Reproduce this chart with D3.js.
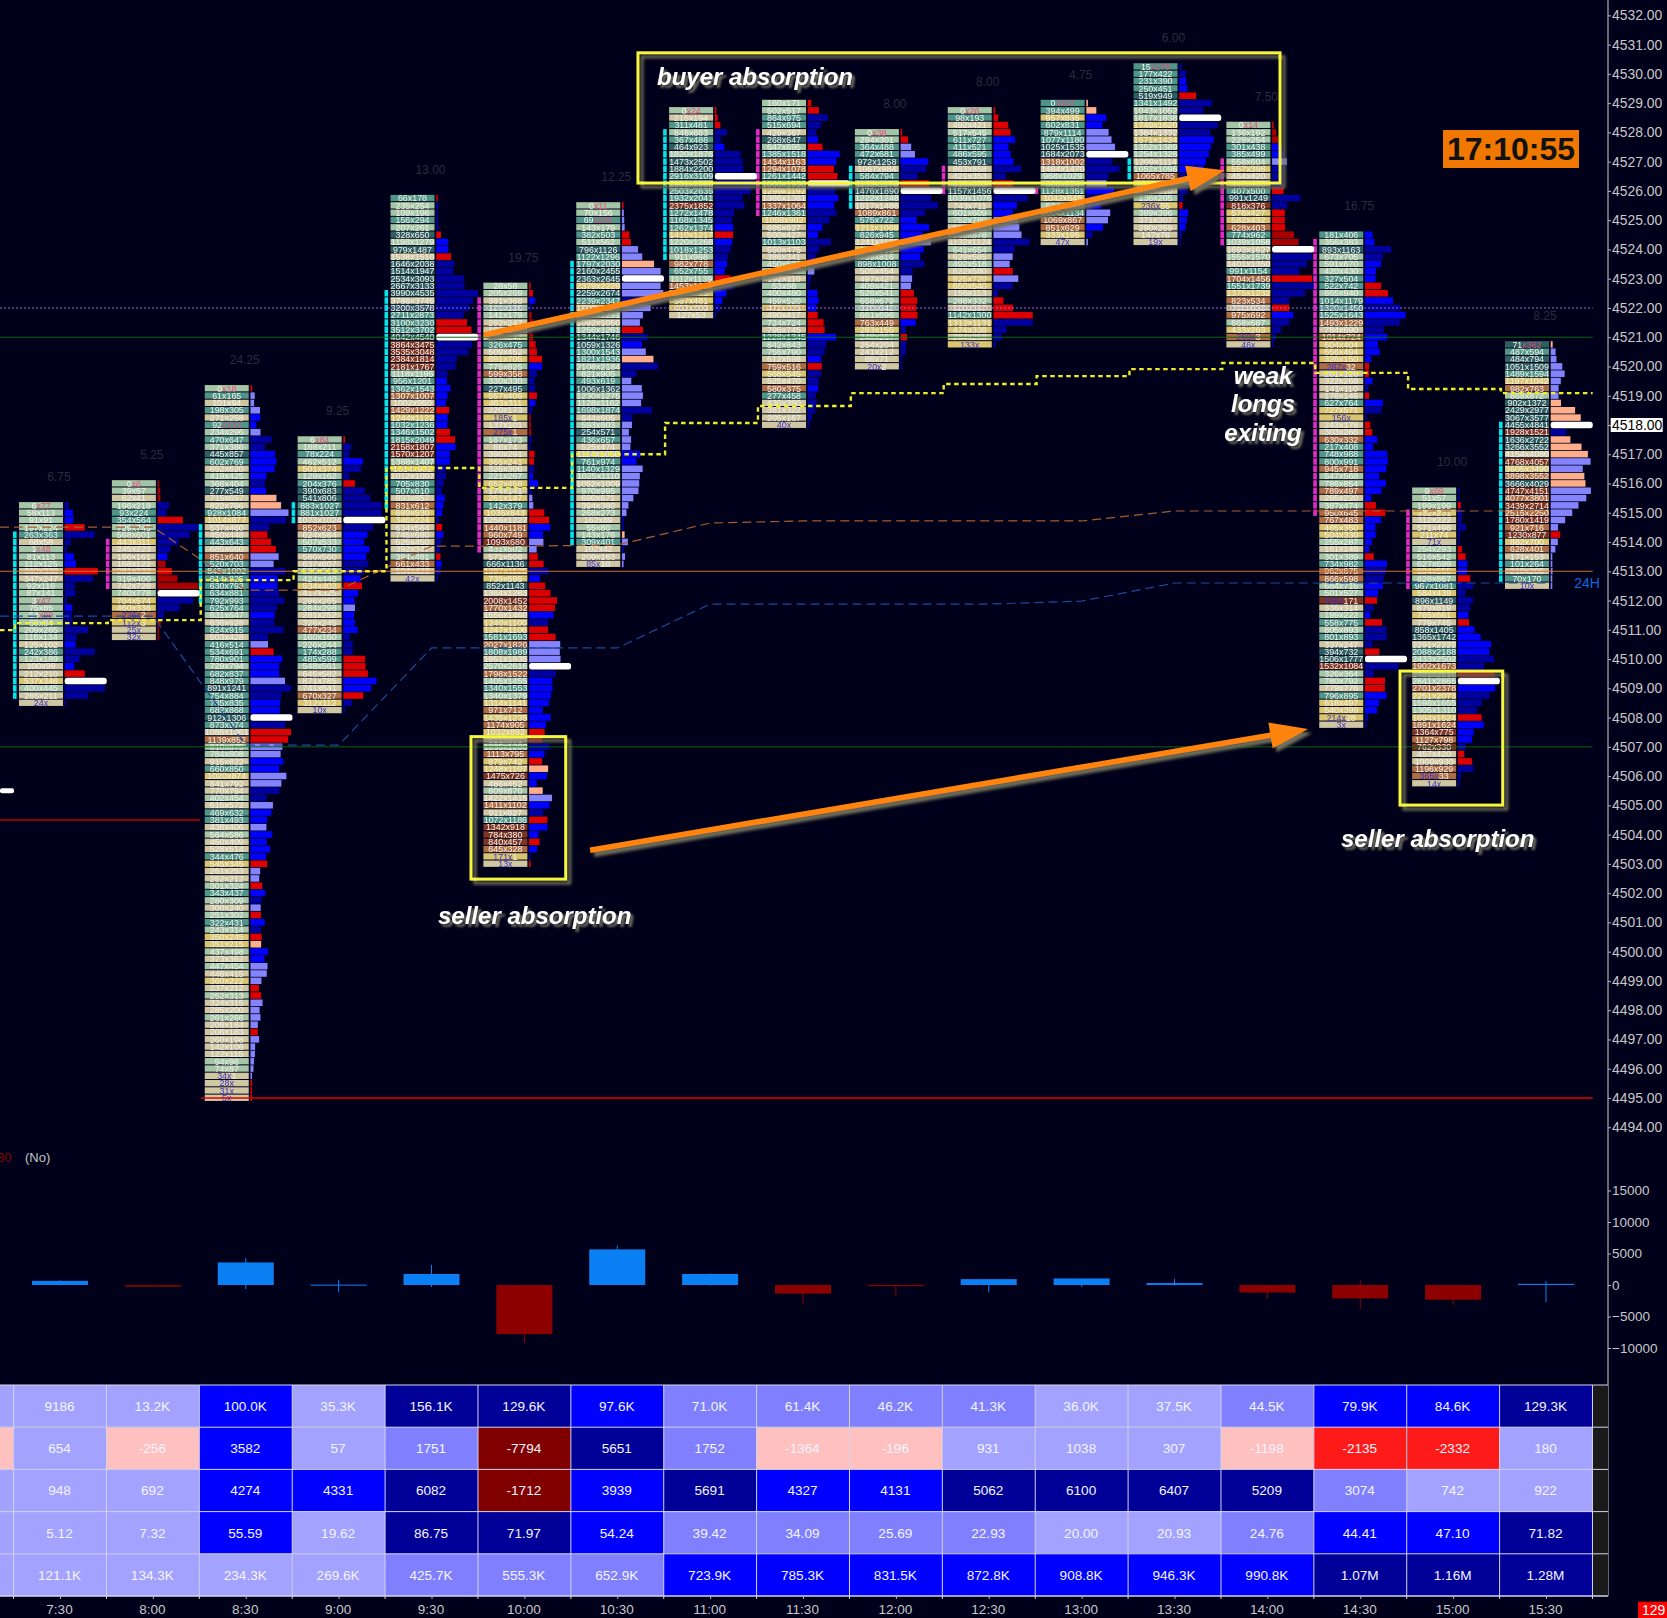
<!DOCTYPE html>
<html><head><meta charset="utf-8">
<script src="https://cdn.jsdelivr.net/npm/d3@7"></script>
<style>html,body{margin:0;padding:0;background:#00001a}svg{display:block}text{font-family:"Liberation Sans",Arial,sans-serif}</style>
</head><body><svg id="c" width="1667" height="1618"></svg>
<script>
// session labels
const timeLabels=["7:30","8:00","8:30","9:00","9:30","10:00","10:30","11:00","11:30","12:00","12:30","13:00","13:30","14:00","14:30","15:00","15:30"];
// highest price of each footprint column
const colTops=[4515.25,4516,4519.25,4517.5,4525.75,4522.75,4525.5,4528.75,4529,4528,4528.75,4529,4530.25,4528.25,4524.5,4515.75,4520.75];
// dim range figure printed over each column (null = hidden by annotation)
const colRange=["6.75","5.25","24.25","9.25","13.00","19.75","12.25",null,null,"8.00","8.00","4.75","6.00","7.50","16.75","10.00","8.25"];
// footprint rows, top to bottom: bid x ask + profile colour code
// separators: x plain, * ask highlighted, # bid highlighted; codes: b n l p r d w(POC)
const c0730="6*77n 58x113b 91x91b 197x224r 263x363n 68x58n 1*48n 81x113b 112x125b 360x338r 347x247n 92x116n 87x141n 3*47n 75x85b 54*99n 60x84n 209x285n 116x134n 125x102b 242x386n 123x189n 100x99b 212x210r 537x346w 400x445n 285x211n 24#0n".split(" ");
const c0800="0*6d 39x57d 62x41d 196x218n 93x224n 354x564r 729x745n 568x601n 443x311n 245x223n 186x161b 168x122d 281x232r 319x400d 742x728d 740x778w 704x574n 460x336n 226#2n 112#3d 25#0d 32#0d".split(" ");
const c0830="0*18r 61x165l 101x94l 198x305l 271x258b 92*213b 234x296l 470x647n 371x386n 445x857b 602x769b 652x620b 419x425b 366x404n 277x549b 715x657p 822x796p 928x1084l 1014x877n 537x460n 450x448r 443x643r 685x660r 851x640l 520x703l 845x1002n 614x825b 630x793b 634x881n 792x993n 625x764n 631x647b 636x628n 824x915n 503x428n 416x514l 534x691r 780x901b 729x794b 682x837b 848x979l 891x1241n 754x884n 735x835b 682x868b 912x1306w 873x974n 1085x1061r 1139x852r 810x875l 784x808l 915x822b 660x850b 1020x874l 841x792l 770x764n 402x454n 615x572l 469x632b 381x493b 438x406l 564x586b 450x409b 528x514b 344x476b 545x345r 261x253l 252x212l 301x324r 343x437b 280x309n 300x240l 251x302r 322x431b 243x314n 350x245r 351x215p 437x498b 373x362b 447x454l 446x415l 360x222l 237x212r 252x313r 324x315l 285x200l 261x266l 208x184l 206x183r 260x198l 142x106l 122x115l 94x96l 74x87l 34#1l 28#0r 31#0r 5#0r".split(" ");
const c0900="6*84r 188x211n 78x224n 462x512b 501x374n 129x162n 204x376r 390x683n 541x806n 883x1027n 881x1027n 1073x1024w 852x623n 624x584b 507x533b 570x730b 580x560b 637x607n 505x510n 424x440b 534x402r 417x325b 296x265b 284x298l 281x252b 326x245b 477x234b 160x160n 226x244n 174x288n 485x599r 548x561r 645x582r 871x785b 741x641b 670x327r 312x112n 10#0n".split(" ");
const c0930="66x178r 235x254n 109x196n 156x294n 207x261n 328x650r 1198x1279b 979x1487b 1538x1510r 1646x2038n 1514x1947n 2534x3093n 2667x3133n 3990x4535n 3786x3745n 3200x3578n 2711x2873n 3100x3230r 3512x3702r 4042x4540w 3864x3475n 3535x3048n 2384x1814n 2181x1767n 1118x1195n 956x1201b 1362x1543b 1307x1007b 1002x950b 1429x1222r 1244x1122b 1032x1236b 1346x1502r 1815x2049r 2158x1807b 1570x1207b 1388x1407b 1014x902n 1012x1007n 705x830n 507x610n 893x857b 831x612b 689x530b 346x224n 634x584r 745x680b 525x450n 392x347n 394x481r 661x433b 504x423n 42#0n".split(" ");
const c1000="28x58r 205x269r 381x368b 121x126n 141x179d 292x247d 162x142d 275x247d 326x475r 509x452r 891x705r 775x825b 599x358n 330x330n 227x495n 557x406r 463x311b 220x173n 185#1d 137x101d 275#1d 167x173n 88x74n 390x291r 365x241r 325x306n 221x267b 652x458b 174x141n 261x147l 142x379l 1035x843r 1256x1227r 1440x1181b 960x749b 1093x680l 431x502l 571x506r 666x1136r 1287x1125n 739x595b 852x1143r 1364x1283r 2008x1452r 1770x1432r 1556x1460b 1240x1100n 1247x1106r 1581x1693r 2027x1820l 1808x1989l 1951x1935l 2570x2616w 1798x1522n 1405x1455b 1340x1553b 1340x1379b 1314x1141b 971x712b 1435x1235b 1174x905b 1032x892r 815x801d 1235x1280n 1113x795b 879x742r 1248x1107p 1475x726b 486x452b 809x870p 1422x1415l 1411x1102b 911x827n 1072x1186r 1342x918b 784x380b 840x457r 645x328b 171#1n 13#0r".split(" ");
const c1030="0*11r 70x156l 69*203l 143x179l 382x503r 511x562r 796x1126l 1122x1296l 1797x2030p 2160x2455l 2363x2645w 2379x2229l 2259x2674l 2239x2347n 1800x1620l 1210x1291l 1092x1050l 1256x1261r 1344x1746n 1059x1326b 1300x1543l 1821x1936p 2108x2184n 821x905n 493x619l 1006x1362l 1230x1275l 1128x1162l 1698x1874n 644x605n 593x603l 254x571l 436x657l 525x474l 1114x1050b 761x974b 1140x1329l 1025x1110l 1052x1009l 970x995l 690x671l 394x380l 268x273l 162x89n 55x80n 143x176p 309x401l 102x42n 209x163l 85#10l".split(" ");
const c1100="0*24r 215x194r 311x481r 848x883n 367x486n 464x923b 1820x1876n 1473x2502n 1884x2200n 2916x3109w 2901x2985n 2503x2635n 1932x2041n 2375x1852n 1272x1478n 1168x1345n 1262x1374b 1410x1217r 1220x1268b 1018x1253n 911x966n 982x778b 652x755b 1112x1139r 1453x1231n 915x715b 587x481b 452x309n 127x53n".split(" ");
const c1130="160x171r 502x517r 864x975n 515x694n 429x367n 268x647b 647x695r 1385x1518b 1434x1163b 1294x1078r 1261x1442r 1860x1950w 1299x1192n 1386x1381b 1337x1064b 1246x1361n 1098x902n 695x627b 500x427b 1013x1103n 550x475n 386x341n 450x532n 295x300l 192x110n 53x98n 400x480b 459x520b 472x325b 490x417r 724x724r 795x745r 1228x1345b 842x843n 756x790n 612x598b 759x516r 668x545n 525x470n 580x375b 277x458n 430x390n 361x322n 205x167n 40#0n".split(" ");
const c1200="0*38r 294x301r 364x488l 472x681l 972x1258b 1067x984n 584x794n 1135x1170r 1476x1890w 1222x1248n 1517x1488n 1089x861n 575x722b 1211x1068b 826x945b 1241x1182l 979x868b 759x816b 898x1008n 505x454n 497x427l 409x421l 526x541r 658x679r 620x642r 661x696r 763x449b 283x155n 248x267r 254x204n 241x212n 86x71n 20#2n".split(" ");
const c1230="0*26r 98x193r 492x421r 517x545r 611x727b 411x521b 486x595b 453x791b 863x858n 421x353n 610x605r 1157x1456w 1039x1076n 743x711b 601x609b 752x780l 810x802l 868x878l 1132x1124n 641x654n 629x565l 492x518l 622x580r 825x720l 650x540n 155x113n 288x332r 620x597r 1142x1300r 1312x1131n 474x338n 284x258n 133#0n".split(" ");
const c1300="0*107p 394x499p 957x835b 602x831b 879x1114l 1077x1180l 1025x1535l 1684x2073w 1318x1002n 1484x1470n 968x1029n 888x924l 1128x1351b 1042x845n 624x680b 1004x1134l 1069x867l 851x629b 333x195n 47#0l".split(" ");
const c1330="15*179n 177x422n 231x390b 250x451b 519x949r 1341x1492n 1043x1052n 1817x1838w 1749x1620n 1384x1332n 1571x1434b 1352x1389b 1254x1328b 1209x1114b 1052x1096b 1065x785n 1013x902n 360x310n 136x205n 236#55r 389x396b 371x307b 290x259b 147x78n 19#0n".split(" ");
const c1400="0*14r 136x192d 229x254d 301x438b 385x499b 558x604l 557x398n 464x420n 440x400n 407x500r 991x1249n 818x376n 578x427r 582x432r 628x403r 774x962d 1039x1058d 1693x1627w 1555x1570n 1401x1350n 991x1154n 1704x1456r 1551x1739n 1375x1232n 823x534n 700x650r 975x692b 668x687n 433x263n 269#3n 46#0n".split(" ");
const c1430="181x406b 356x383b 893x1163n 673x705n 591x670b 420x430b 327x504b 522x742r 865x940r 1014x1179b 1320x1450n 1525x1643b 1493x1229n 784x690n 1014x724b 604x404b 656x494b 326x150b 287#32r 201x126r 322x268b 141x110n 176x146r 627x764b 727x571n 156#0n 243x178r 303x266r 630x332b 217x408b 748x988b 800x991b 945x718b 547x568b 786x854b 789x497b 265x220b 387x474r 950x645r 767x483b 465x350b 504x330b 255x287b 161x148b 301x389r 734x982b 962x675n 866x598n 684x716b 501x527b 769#171r 336x314n 199x222b 558x775r 805x893n 801x893n 337x247n 394x732r 1506x1777w 1532x1084n 326x364n 780x792r 779x776r 796x895b 618x497b 540x399b 214#28n 3#0n".split(" ");
const c1500="9*69n 51x57n 199x199r 332x231n 312x222n 571x498n 211x74n 71#0n 254x293r 516x542r 627x699b 694x555b 828x867r 967x1081n 584x439n 896x1149n 879x819n 765x661b 779x745r 858x1405b 1365x1742b 2291x2222b 2088x2188b 2433x2502n 1902x1673n 2491x2510d 2841x2865w 2701x2378b 2251x2073n 1598x1655n 1305x1310n 1694x1524r 1891x1624b 1364x775b 1127x798b 762x330n 457x420r 1009x930r 1196x929n 365#33n 14#0n".split(" ");
const c1530="71*362p 487x594l 484x794l 1051x1509l 1489x1594l 1197x1042l 982x763l 868x872l 902x1372p 2429x2977p 3067x3577p 4455x4841w 1928x1521n 1636x2722p 3266x3552p 4154x4080p 4768x4057l 3605x3490l 3898x3552p 3666x4029p 4747x4151l 4077x3801l 3439x2714l 2515x2250l 1780x1419l 921x716l 1230x877r 882x700l 628x401l 171x153l 101x264l 210x205l 70x170l 10#0l".split(" ");
const columns=[c0730,c0800,c0830,c0900,c0930,c1000,c1030,c1100,c1130,c1200,c1230,c1300,c1330,c1400,c1430,c1500,c1530];
// side strips: column, first price, last price, kind
const strips=[[0,4514.25,4508.75,"c"],[1,4514,4512.5,"m"],[2,4514.5,4512,"c"],[3,4515.25,4514.75,"c"],[4,4522.5,4515.25,"c"],[5,4522.25,4513.75,"m"],[6,4523.5,4514,"c"],[7,4528,4523.75,"c"],[8,4528,4525.25,"m"],[9,4526.75,4525.5,"c"],[10,4526.75,4526,"m"],[11,4526,4526,"m"],[12,4527,4526.5,"c"],[13,4527,4524.25,"m"],[14,4524.25,4515,"m"],[15,4515,4512.5,"m"],[16,4518,4512.75,"c"]];
// stepped VWAP: one level per column, plus the level before the first column
const vwapLead=4510.99;
const vwap=[4511.23,4511.33,4512.70,4513.0,4516.53,4515.85,4517.0,4518.07,4518.65,4519.09,4519.4,4519.67,4519.91,4520.12,4519.78,4519.23,4519.09];
const bandUpper=[4514.51,4514.51,4512.36,4512.36,4513.86,4513.86,4513.9,4514.65,4514.72,4514.72,4514.72,4514.72,4515.06,4515.06,4515.06,4515.06,4515.06];
const bandLower=[4511.47,4511.47,4507.06,4507.06,4510.38,4510.38,4510.38,4511.88,4511.88,4511.88,4511.88,4511.98,4512.6,4512.6,4512.6,4512.6,4512.6];
// lower pane candles
const deltaClose=[654,-256,3582,57,1751,-7794,5651,1752,-1364,-196,931,1038,307,-1198,-2135,-2332,180];
const deltaHigh=[750,50,4274,840,3200,0,6260,1850,0,0,931,1038,1000,0,800,0,635];
const deltaLow=[0,-256,-630,-1160,-320,-9200,0,-100,-3000,-1700,-1180,-300,-100,-2220,-3800,-3170,-2700];
// table
const rowVolume=["9186","13.2K","100.0K","35.3K","156.1K","129.6K","97.6K","71.0K","61.4K","46.2K","41.3K","36.0K","37.5K","44.5K","79.9K","84.6K","129.3K"];
const rowDelta=["654","-256","3582","57","1751","-7794","5651","1752","-1364","-196","931","1038","307","-1198","-2135","-2332","180"];
const rowCum=["948","692","4274","4331","6082","-1712","3939","5691","4327","4131","5062","6100","6407","5209","3074","742","922"];
const rowRate=["5.12","7.32","55.59","19.62","86.75","71.97","54.24","39.42","34.09","25.69","22.93","20.00","20.93","24.76","44.41","47.10","71.82"];
const rowTotal=["121.1K","134.3K","234.3K","269.6K","425.7K","555.3K","652.9K","723.9K","785.3K","831.5K","872.8K","908.8K","946.3K","990.8K","1.07M","1.16M","1.28M"];
const tableRows=[rowVolume,rowDelta,rowCum,rowRate,rowTotal];
const rowLevels=["LLBLNNBMMMMLLMBBN","LPBLMDNMPPLLLPRRL","LLBBNDBNBBNNNNMLL","LLBLNNBMMMMLLMBBN","LLLLMMMBBBBBBBNNN"];
const leadLevels="LPLLL";
// annotations in chart units (time index, price)
const boxes=[[6.223,4530.72,13.136,4526.27],[4.425,4507.35,5.445,4502.48],[14.428,4509.59,15.534,4505.01]];
const arrows=[[4.565,4521.08,12.544,4526.71],[5.707,4503.47,13.437,4507.61]];
const notes=[["buyer absorption",6.428,4529.62,"start"],["seller absorption",4.07,4500.95,"start"],["seller absorption",13.793,4503.58,"start"],["weak",12.953,4519.4,"middle"],["longs",12.953,4518.43,"middle"],["exiting",12.953,4517.45,"middle"]];
const priceTicks=d3.range(4494,4533);
const deltaTicks=[15000,10000,5000,0,-5000,-10000];

const svg=d3.select("#c");
svg.append("rect").attr("width",1667).attr("height",1618).attr("fill","#00001a");
const defs=svg.append("defs");
const sh=(id,dx,dy,s,col)=>defs.append("filter").attr("id",id).attr("x","-20%").attr("y","-40%").attr("width","140%").attr("height","180%").append("feDropShadow").attr("dx",dx).attr("dy",dy).attr("stdDeviation",s).attr("flood-color",col);
sh("ts",3,3,1,"#6a6a5a");sh("bs",4,4,1.5,"#70705a");
defs.append("filter").attr("id","soft").append("feGaussianBlur").attr("stdDeviation",0.45);

const x=d3.scaleLinear().domain([0,16]).range([60,1546]);
const y=d3.scaleLinear().domain([4518,4494]).range([425,425+24*29.26]);
const yd=d3.scaleLinear().domain([0,5000]).range([1285,1253.5]);
const xLeft=x.invert(0),xRight=x.invert(1592.7);
const step=y(4518)-y(4518.25);
const cellColor=d3.scaleThreshold().domain([-350,-200,-100,0,90,250]).range(["#7e3424","#ad6c43","#d9c56f","#cfc7a2","#a5c6a6","#4f9688","#2f5f64"]);
const barColor={b:"#0000ff",n:"#0000a0",l:"#8484ff",p:"#ffae8c",r:"#dc0000",d:"#a80000",w:"#ffffff"};
const cellW=44,cellOff=-41,barOff=4.7,barMax=42;

const rows=[];
columns.forEach((col,ci)=>{
  const parsed=col.map((s,i)=>{const m=s.match(/^(\d+)([x*#])(\d+)([a-z])$/);return{ci,price:colTops[ci]-i*0.25,bid:+m[1],ask:+m[3],sep:m[2],code:m[4],vol:+m[1]+ +m[3]};});
  const poc=parsed.find(d=>d.code==="w");
  const len=d3.scaleLinear().domain([0,poc.vol]).range([0,barMax]);
  parsed.forEach(d=>{d.len=Math.max(1.6,len(d.vol));rows.push(d);});
});

const fp=svg.append("g").attr("filter","url(#soft)");
// strips, one tick per price row
const stripRows=strips.flatMap(s=>d3.range(0,Math.round((s[1]-s[2])*4)+1).map(k=>({ci:s[0],price:s[1]-k*0.25,kind:s[3]})));
fp.append("g").selectAll("rect").data(stripRows).join("rect")
 .attr("x",d=>x(d.ci)-47).attr("width",3.6).attr("y",d=>y(d.price)-step/2+0.4).attr("height",step-0.9)
 .attr("fill",d=>d.kind==="c"?"#00e6ea":"#e22cc4");
// cells
fp.append("g").selectAll("rect").data(rows).join("rect")
 .attr("x",d=>x(d.ci)+cellOff).attr("width",cellW).attr("y",d=>y(d.price)-step/2+0.3).attr("height",step-1)
 .attr("fill",d=>cellColor(d.ask-d.bid));
// profile bars
fp.append("g").selectAll("rect").data(rows).join("rect")
 .attr("x",d=>x(d.ci)+barOff).attr("width",d=>d.len).attr("y",d=>y(d.price)-step/2+0.3).attr("height",step-0.8)
 .attr("rx",d=>d.code==="w"?2.5:0).attr("fill",d=>barColor[d.code]);
// cell text
const tx=fp.append("g").attr("font-size",8.9).attr("text-anchor","middle").selectAll("text").data(rows).join("text")
 .attr("x",d=>x(d.ci)+cellOff+cellW/2).attr("y",d=>y(d.price)+3.1).attr("fill","#f2f2ea");
tx.each(function(d){
  const t=d3.select(this);
  if(d.sep==="*"){t.append("tspan").text(d.bid);t.append("tspan").attr("fill","#e4507e").text("x"+d.ask);}
  else if(d.sep==="#"){t.append("tspan").attr("fill","#4232c4").text(d.bid+"x");t.append("tspan").text(d.ask||"");}
  else t.text(d.bid+"x"+d.ask);
});
// range labels
svg.append("g").attr("font-size",12).attr("text-anchor","middle").attr("fill","#2c2c3a").selectAll("text")
 .data(colRange.map((v,i)=>({v,i})).filter(d=>d.v)).join("text")
 .attr("x",d=>x(d.i)-1).attr("y",d=>y(colTops[d.i])-24.5).text(d=>d.v);

// level lines
const hline=(p,t0,t1,col,w,dash)=>svg.append("line").attr("x1",x(t0)).attr("x2",x(t1)).attr("y1",y(p)).attr("y2",y(p)).attr("stroke",col).attr("stroke-width",w).attr("stroke-dasharray",dash||null);
hline(4522,xLeft,xRight,"#9a68dc",1,"2,2");
hline(4521,xLeft,xRight,"#0c6414",1);
hline(4507,xLeft,xRight,"#0c6414",1);
hline(4513,xLeft,xRight,"#c8702c",1.1);
hline(4495,x.invert(201),xRight,"#e00000",1.3);
hline(4504.5,xLeft,x.invert(200),"#c00000",1.3);
// prior session POC stub
svg.append("rect").attr("x",x(xLeft)).attr("width",14).attr("y",y(4505.5)-2.5).attr("height",5).attr("rx",2).attr("fill","#fff");
// dashed bands
const bandLine=d3.line().x((d,i)=>x(i)).y(d=>y(d));
[[bandUpper,"#a85c30"],[bandLower,"#1a4c9c"]].forEach(([b,c])=>{
  svg.append("path").attr("fill","none").attr("stroke",c).attr("stroke-width",1.2).attr("stroke-dasharray","9,5").attr("d",bandLine(b));
  svg.append("line").attr("x1",x(xLeft)).attr("x2",x(0)).attr("y1",y(b[0])).attr("y2",y(b[0])).attr("stroke",c).attr("stroke-width",1.2).attr("stroke-dasharray","9,5");
});
// VWAP
const vw=[];vw.push([xLeft,vwapLead]);vwap.forEach((v,i)=>{vw.push([i-0.485,v]);});vw.push([xRight,vwap[16]]);
svg.append("path").attr("fill","none").attr("stroke","#ecec28").attr("stroke-width",2.4).attr("stroke-dasharray","4.5,3.5")
 .attr("d",d3.line().curve(d3.curveStepAfter).x(d=>x(d[0])).y(d=>y(d[1]))(vw));
svg.append("text").attr("x",1587).attr("y",y(4512.6)+5).attr("text-anchor","middle").attr("font-size",14).attr("fill","#1068d8").text("24H");

// price axis
const axisStyle=g=>{g.selectAll("path.domain").remove();g.selectAll("line").attr("stroke","#b8b8b8");g.selectAll("text").attr("fill","#c8c8c8").attr("font-family",'"Liberation Sans",Arial,sans-serif');};
svg.append("g").attr("transform","translate(1608,0)").call(d3.axisRight(y).tickValues(priceTicks).tickFormat(d3.format(".2f")).tickSize(3).tickPadding(1))
 .call(axisStyle).attr("font-size",13.9);
svg.append("line").attr("x1",1608).attr("x2",1608).attr("y1",0).attr("y2",1596).attr("stroke","#b0b0b0").attr("stroke-width",1.2);
svg.append("rect").attr("x",1610.7).attr("y",y(4518)-7).attr("width",52).attr("height",14).attr("fill","#fff");
svg.append("text").attr("x",1612).attr("y",y(4518)+5).attr("font-size",13.9).attr("fill","#000").text("4518.00");

// clock
svg.append("rect").attr("x",1443).attr("y",130).attr("width",136).attr("height",38).attr("fill","#f07800");
svg.append("text").attr("x",1511).attr("y",160).attr("text-anchor","middle").attr("font-size",32).attr("font-weight","bold").attr("fill","#111").text("17:10:55");

// lower pane
svg.append("text").attr("x",-3).attr("y",1162).attr("font-size",13).attr("fill","#8a0000").text("80");
svg.append("text").attr("x",25).attr("y",1162).attr("font-size",13).attr("fill","#c4c4c4").text("(No)");
svg.append("g").attr("transform","translate(1608,0)").call(d3.axisRight(yd).tickValues(deltaTicks).tickFormat(d3.format("d")).tickSize(3).tickPadding(1))
 .call(axisStyle).attr("font-size",13.5);
const cand=svg.append("g").selectAll("g").data(deltaClose).join("g");
const upc=d=>d>=0?"#0a80f4":"#8c0000";
cand.append("line").attr("x1",(d,i)=>x(i)).attr("x2",(d,i)=>x(i)).attr("y1",(d,i)=>yd(deltaHigh[i])).attr("y2",(d,i)=>yd(deltaLow[i])).attr("stroke",upc).attr("stroke-width",1);
cand.append("rect").attr("x",(d,i)=>x(i)-28).attr("width",56).attr("y",d=>Math.min(yd(d),yd(0))).attr("height",d=>Math.max(1,Math.abs(yd(d)-yd(0)))).attr("fill",upc);

// table
const levelColor={L:"#a3a3ff",M:"#8080ff",B:"#0000ff",N:"#000098",P:"#ffc0c0",R:"#ff1a1a",D:"#800000"};
const rowY=d3.scaleLinear().domain([0,5]).range([1385,1596]);
const cells=[];
tableRows.forEach((r,ri)=>r.forEach((v,ci)=>cells.push({ri,ci,v,lev:rowLevels[ri][ci]})));
const tb=svg.append("g");
const leftEdge=x(0)-46.4;
tb.selectAll("rect.l").data(leadLevels.split("")).join("rect").attr("x",0).attr("width",leftEdge).attr("y",(d,i)=>rowY(i)).attr("height",(d,i)=>rowY(i+1)-rowY(i)).attr("fill",d=>levelColor[d]);
tb.selectAll("rect.c").data(cells).join("rect").attr("x",d=>x(d.ci)-46.4).attr("width",x(1)-x(0)).attr("y",d=>rowY(d.ri)).attr("height",rowY(1)-rowY(0)).attr("fill",d=>levelColor[d.lev]);
tb.append("rect").attr("x",x(16)+46.7).attr("width",1608-x(16)-46.7).attr("y",rowY(0)).attr("height",rowY(5)-rowY(0)).attr("fill","#1a1a1a");
d3.range(6).forEach(i=>tb.append("line").attr("x1",0).attr("x2",1608).attr("y1",rowY(i)).attr("y2",rowY(i)).attr("stroke","#d4d4ec").attr("stroke-width",i==5?1.6:1));
d3.range(18).forEach(i=>tb.append("line").attr("x1",x(i)-46.4).attr("x2",x(i)-46.4).attr("y1",rowY(0)).attr("y2",rowY(5)+3).attr("stroke","#d4d4ec").attr("stroke-width",1));
tb.append("g").attr("font-size",13.6).attr("text-anchor","middle").attr("fill","#f4f4ff").selectAll("text").data(cells).join("text")
 .attr("x",d=>x(d.ci)-0.5).attr("y",d=>rowY(d.ri)+rowY(1)/2-rowY(0)/2+4.8).text(d=>d.v);
svg.append("g").attr("transform","translate(0,1596)").call(d3.axisBottom(x).tickValues(d3.range(17)).tickFormat(i=>timeLabels[i]).tickSize(3).tickPadding(5))
 .call(axisStyle).attr("font-size",13.5).selectAll("text").attr("dx",-1);
svg.append("rect").attr("x",1638).attr("y",1601.7).attr("width",29).attr("height",16.3).attr("fill","#ff0000");
svg.append("text").attr("x",1642).attr("y",1615).attr("font-size",14).attr("fill","#fff").text("129");

// annotations
const ann=svg.append("g");
ann.selectAll("rect").data(boxes).join("rect").attr("x",d=>x(d[0])).attr("y",d=>y(d[1])).attr("width",d=>x(d[2])-x(d[0])).attr("height",d=>y(d[3])-y(d[1]))
 .attr("fill","none").attr("stroke","#f6f63c").attr("stroke-width",3).attr("filter","url(#bs)");
ann.selectAll("path").data(arrows).join("path").attr("fill","#ff8408").attr("filter","url(#bs)").attr("d",d=>{
  const x1=x(d[0]),y1=y(d[1]),x2=x(d[2]),y2=y(d[3]),a=Math.atan2(y2-y1,x2-x1),w=2.8,hl=38,hw=13,c=Math.cos(a),s=Math.sin(a);
  const bx=x2-hl*c,by=y2-hl*s;
  const P=[[x1+s*w,y1-c*w],[bx+s*w,by-c*w],[bx+s*hw,by-c*hw],[x2,y2],[bx-s*hw,by+c*hw],[bx-s*w,by+c*w],[x1-s*w,y1+c*w]];
  return "M"+P.map(p=>p.join(",")).join("L")+"Z";
});
ann.selectAll("text").data(notes).join("text").attr("x",d=>x(d[1])).attr("y",d=>y(d[2])).attr("text-anchor",d=>d[3])
 .attr("font-size",24).attr("font-weight","bold").attr("font-style","italic").attr("fill","#fff").attr("filter","url(#ts)").text(d=>d[0]);
</script></body></html>
